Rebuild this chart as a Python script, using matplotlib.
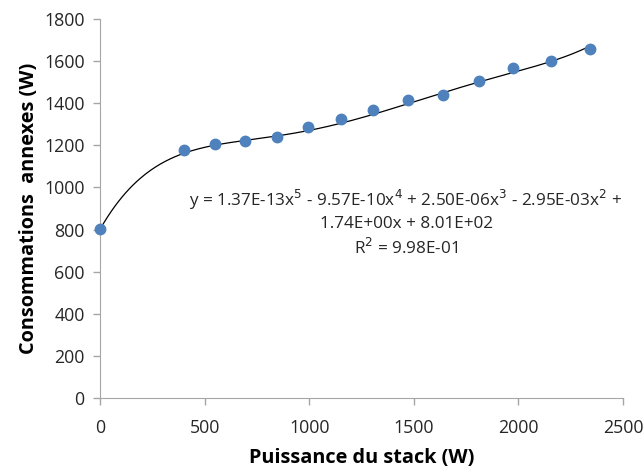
import numpy as np
import matplotlib
matplotlib.use("Agg")
import matplotlib.pyplot as plt

power = [0, 403, 548, 693, 845, 996, 1150, 1307, 1474, 1638, 1810, 1976, 2154, 2342]
consumption = [801, 1178, 1207, 1220, 1240, 1288, 1326, 1369, 1413, 1440, 1505, 1567, 1600, 1659]
coeffs = [1.37e-13, -9.57e-10, 2.50e-06, -2.95e-03, 1.74e+00, 8.01e+02]
xticks = [0, 500, 1000, 1500, 2000, 2500]
yticks = [0, 200, 400, 600, 800, 1000, 1200, 1400, 1600, 1800]

plt.rcParams['font.family'] = ['Open Sans', 'DejaVu Sans']

fig = plt.figure(figsize=(6.43, 4.68), dpi=100)
ax = fig.add_axes([100/643, 70/468, 523/643, 379/468])

xf = np.linspace(min(power), max(power), 400)
ax.plot(xf, np.polyval(coeffs, xf), color='black', lw=0.9, zorder=2)
ax.plot(power, consumption, 'o', color='#4F81BD', markersize=7.5, zorder=3, clip_on=False)

ax.set_xlim(0, 2500)
ax.set_ylim(0, 1800)
ax.set_xticks(xticks)
ax.set_yticks(yticks)
for s in ['top', 'right']:
    ax.spines[s].set_visible(False)
for s in ['left', 'bottom']:
    ax.spines[s].set_color('#A6A6A6')
ax.tick_params(axis='both', direction='out', length=5, color='#A6A6A6', labelsize=12.8, labelcolor='#262626', width=1)
ax.tick_params(axis='x', pad=10)
ax.tick_params(axis='y', pad=6)
ax.set_xlabel('Puissance du stack (W)', fontsize=14.3, fontweight='bold', labelpad=8)
ax.set_ylabel('Consommations  annexes (W)', fontsize=14.3, fontweight='bold', labelpad=4)

eq = ('y = 1.37E-13x$^5$ - 9.57E-10x$^4$ + 2.50E-06x$^3$ - 2.95E-03x$^2$ +\n'
      '1.74E+00x + 8.01E+02\nR$^2$ = 9.98E-01')
fig.text(406/643, 1 - 188/468, eq, ha='center', va='top', fontsize=12.3,
         color='#262626', linespacing=1.35)

fig.savefig('out.png', dpi=100)
